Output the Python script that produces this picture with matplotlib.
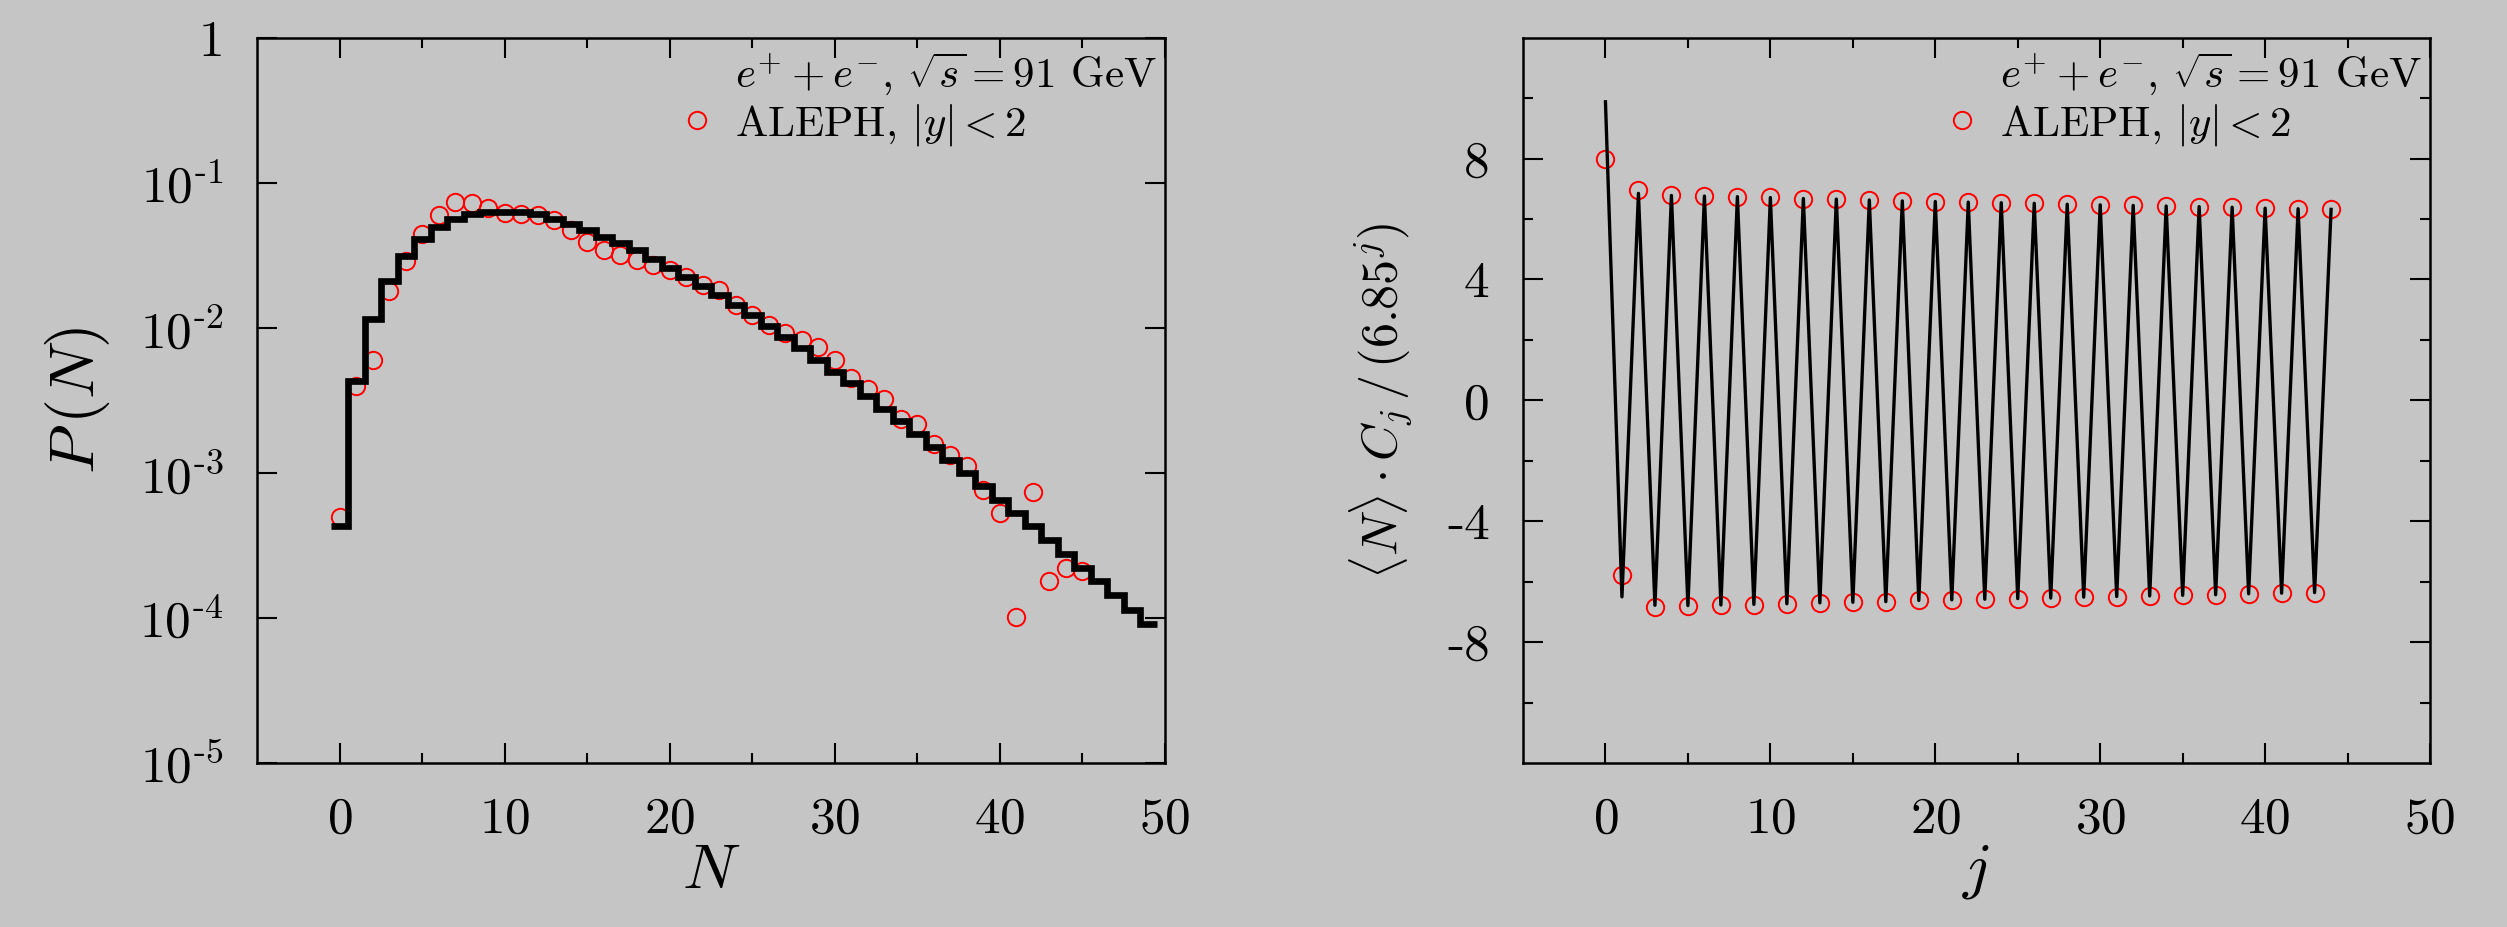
import numpy as np
import matplotlib
matplotlib.use("Agg")
import matplotlib.pyplot as plt
from matplotlib.lines import Line2D
from matplotlib.ticker import FixedLocator, FixedFormatter, NullLocator

# Computer Modern look (cmr10 + cm mathtext)
plt.rcParams['font.family'] = 'serif'
plt.rcParams['font.serif'] = ['cmr10']
plt.rcParams['mathtext.fontset'] = 'cm'
plt.rcParams['axes.unicode_minus'] = False
plt.rcParams['axes.formatter.use_mathtext'] = True

BG = '#c4c5c4'

# ------------------------------------------------------------------
# left panel: P(N), model histogram + ALEPH points
# ------------------------------------------------------------------
n_model = np.arange(0, 50)
p_model = [4.3e-4, 4.27e-3, 1.15e-2, 2.11e-2, 3.14e-2, 4.11e-2, 4.97e-2, 5.65e-2,
           6.08e-2, 6.25e-2, 6.3e-2, 6.25e-2, 6.05e-2, 5.59e-2, 5.19e-2, 4.72e-2,
           4.24e-2, 3.82e-2, 3.43e-2, 2.96e-2, 2.57e-2, 2.25e-2, 1.94e-2, 1.68e-2,
           1.43e-2, 1.22e-2, 1.03e-2, 8.67e-3, 7.21e-3, 5.98e-3, 4.97e-3, 4.15e-3,
           3.38e-3, 2.76e-3, 2.27e-3, 1.84e-3, 1.51e-3, 1.22e-3, 1.0e-3, 8.09e-4,
           6.55e-4, 5.3e-4, 4.28e-4, 3.47e-4, 2.76e-4, 2.21e-4, 1.79e-4, 1.43e-4,
           1.14e-4, 9.14e-5]

n_aleph = np.arange(0, 46)
p_aleph = [5.0e-4, 3.96e-3, 6.05e-3, 1.79e-2, 2.9e-2, 4.43e-2, 5.99e-2, 7.32e-2,
           7.28e-2, 6.66e-2, 6.15e-2, 6.1e-2, 5.99e-2, 5.53e-2, 4.72e-2, 3.92e-2,
           3.43e-2, 3.17e-2, 2.93e-2, 2.71e-2, 2.50e-2, 2.25e-2, 1.97e-2, 1.82e-2,
           1.43e-2, 1.22e-2, 1.04e-2, 9.15e-3, 8.22e-3, 7.40e-3, 5.98e-3, 4.52e-3,
           3.76e-3, 3.24e-3, 2.36e-3, 2.19e-3, 1.59e-3, 1.32e-3, 1.11e-3, 7.67e-4,
           5.25e-4, 1.01e-4, 7.36e-4, 1.81e-4, 2.21e-4, 2.12e-4]

p_ticks = [1, 1e-1, 1e-2, 1e-3, 1e-4, 1e-5]
p_ticklabels = ['1', r'$10^{\text{-}1}$', r'$10^{\text{-}2}$', r'$10^{\text{-}3}$',
                r'$10^{\text{-}4}$', r'$10^{\text{-}5}$']

# ------------------------------------------------------------------
# right panel: <N> C_j / (6.85^j)
# ------------------------------------------------------------------
j_model = np.arange(0, 45)
c_model = [9.88, -6.50, 6.85, -6.78, 6.78, -6.79, 6.76, -6.77, 6.74, -6.75,
           6.71, -6.73, 6.68, -6.70, 6.66, -6.68, 6.63, -6.66, 6.60, -6.62,
           6.58, -6.60, 6.56, -6.58, 6.54, -6.56, 6.52, -6.54, 6.49, -6.51,
           6.47, -6.49, 6.45, -6.47, 6.43, -6.45, 6.41, -6.43, 6.39, -6.40,
           6.36, -6.38, 6.34, -6.36, 6.32]

j_aleph = np.arange(0, 45)
c_aleph = [8.0, -5.79, 6.96, -6.84, 6.79, -6.80, 6.76, -6.78, 6.74, -6.76,
           6.72, -6.73, 6.68, -6.70, 6.66, -6.68, 6.63, -6.66, 6.60, -6.62,
           6.58, -6.60, 6.56, -6.58, 6.54, -6.56, 6.52, -6.54, 6.49, -6.51,
           6.47, -6.49, 6.45, -6.47, 6.43, -6.45, 6.41, -6.43, 6.39, -6.40,
           6.36, -6.38, 6.34, -6.36, 6.32]

c_major = [-8, -4, 0, 4, 8]
c_minor = [-10, -6, -2, 2, 6, 10]
c_ticklabels = ['-8', '-4', '0', '4', '8']

x_major = [0, 10, 20, 30, 40, 50]
x_minor = [5, 15, 25, 35, 45]

LEG_TEXT = [r'$e^{+}+e^{-}$, $\sqrt{s}=91$ GeV', r'ALEPH, $|y|<2$']

TICK_FS = 37
LABEL_FS = 46
LEG_FS = 31
MS = 12.5
MEW = 1.4


def style_axes(ax):
    ax.set_facecolor(BG)
    for sp in ax.spines.values():
        sp.set_linewidth(1.8)
    ax.tick_params(which='both', direction='in', top=True, right=True,
                   width=1.5, labelsize=TICK_FS, pad=24)
    ax.tick_params(which='major', length=14.4)
    ax.tick_params(which='minor', length=7.2)
    ax.set_xlim(-5, 50)
    ax.xaxis.set_major_locator(FixedLocator(x_major))
    ax.xaxis.set_minor_locator(FixedLocator(x_minor))


def add_legend(ax):
    handles = [Line2D([], [], ls='none', marker=None),
               Line2D([], [], ls='none', marker='o', mfc='none', mec='red',
                      ms=MS, mew=MEW)]
    leg = ax.legend(handles, LEG_TEXT, loc='upper right',
                    bbox_to_anchor=(1.015, 1.012), frameon=False,
                    fontsize=LEG_FS, handlelength=0.8, handletextpad=0.5,
                    borderaxespad=0.2, borderpad=0.3, labelspacing=0.1)
    return leg


fig = plt.figure(figsize=(25.07, 9.27), dpi=100, facecolor=BG)
ax1 = fig.add_axes([0.1026, 0.1769, 0.3621, 0.7824])
ax2 = fig.add_axes([0.6075, 0.1769, 0.3618, 0.7824])

# --- left ---
style_axes(ax1)
ax1.set_yscale('log')
ax1.set_ylim(1e-5, 1)
ax1.plot(n_aleph, p_aleph, 'o', mfc='none', mec='red', ms=MS, mew=MEW, zorder=2)
edges = np.append(n_model - 0.5, n_model[-1] + 0.5)
ax1.stairs(p_model, edges, baseline=None, color='black', lw=4.8, zorder=3)
ax1.yaxis.set_major_locator(FixedLocator(p_ticks))
ax1.yaxis.set_major_formatter(FixedFormatter(p_ticklabels))
ax1.yaxis.set_minor_locator(NullLocator())
ax1.set_xlabel(r'$N$', fontsize=LABEL_FS)
ax1.set_ylabel(r'$P\,(N)$', fontsize=LABEL_FS)
ax1.xaxis.set_label_coords(0.5, -0.11)
ax1.yaxis.set_label_coords(-0.16, 0.5)
add_legend(ax1)

# --- right ---
style_axes(ax2)
ax2.set_ylim(-12, 12)
ax2.plot(j_aleph, c_aleph, 'o', mfc='none', mec='red', ms=MS, mew=MEW, zorder=2)
ax2.plot(j_model, c_model, color='black', lw=2.4, zorder=3)
ax2.yaxis.set_major_locator(FixedLocator(c_major))
ax2.yaxis.set_major_formatter(FixedFormatter(c_ticklabels))
ax2.yaxis.set_minor_locator(FixedLocator(c_minor))
ax2.set_xlabel(r'$j$', fontsize=LABEL_FS)
ax2.set_ylabel(r'$\langle N\rangle\cdot C_j\,/\,(6.85^j)$', fontsize=36)
ax2.xaxis.set_label_coords(0.5, -0.11)
ax2.yaxis.set_label_coords(-0.12, 0.5)
add_legend(ax2)

fig.savefig('out.png', dpi=100, facecolor=BG)
